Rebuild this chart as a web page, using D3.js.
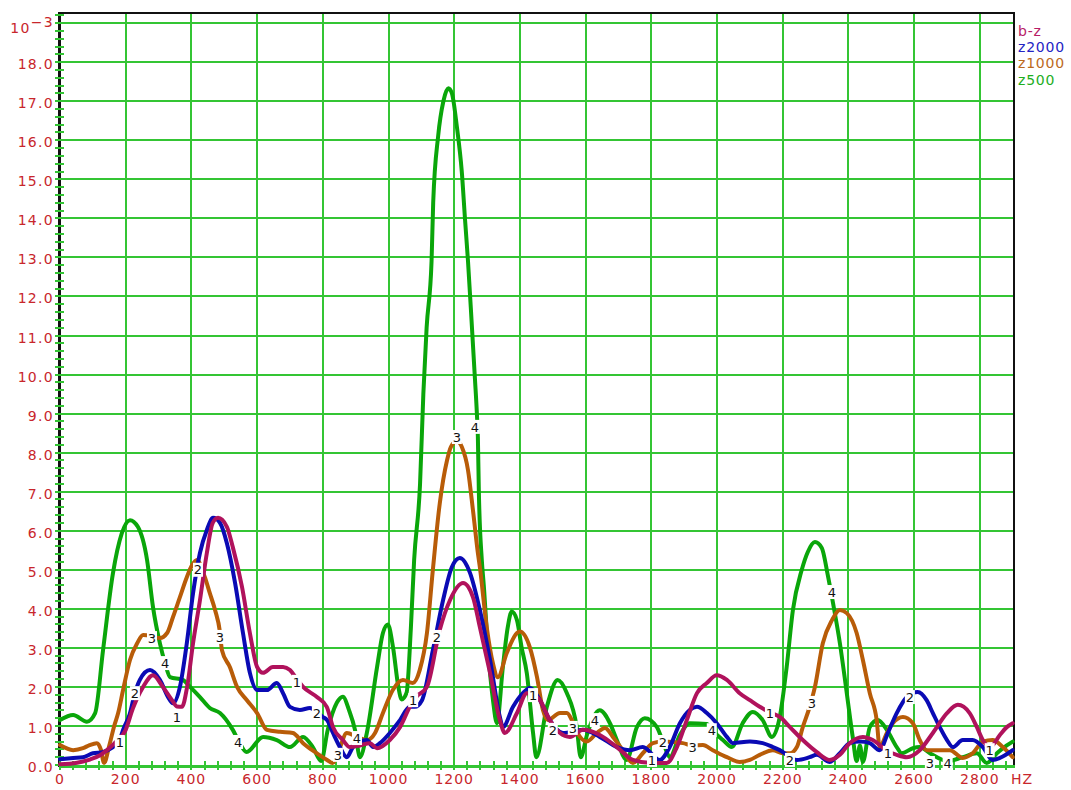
<!DOCTYPE html>
<html>
<head>
<meta charset="utf-8">
<script src="https://cdn.jsdelivr.net/npm/d3@7"></script>
<style>
  body { margin: 0; background: #fff; }
  svg { display: block; }
</style>
</head>
<body>
<svg id="chart" width="1071" height="790"></svg>
<script>
// Spectrum curves: [frequency in Hz, amplitude in units of 10^-3]
const bz = [[0,0.02],[52,0.06],[91,0.14],[122,0.25],[143,0.38],[165,0.55],[200,0.9],[222,1.45],[253,2.0],[283,2.3],[313,2.0],[341,1.66],[356,1.5],[371,1.49],[387,2.0],[405,3.12],[426,4.22],[447,5.43],[465,6.2],[481,6.33],[508,6.1],[526,5.58],[554,4.56],[578,3.38],[600,2.51],[618,2.36],[648,2.51],[679,2.51],[700,2.43],[721,2.2],[740,2.0],[782,1.74],[812,1.49],[831,0.97],[861,0.64],[882,0.46],[913,0.5],[943,0.56],[965,0.43],[1004,0.64],[1035,0.97],[1065,1.49],[1085,1.75],[1117,2.0],[1156,3.46],[1187,4.22],[1227,4.66],[1257,4.3],[1278,3.53],[1309,2.36],[1339,1.15],[1354,0.82],[1391,1.33],[1421,1.84],[1440,1.8],[1461,1.66],[1491,1.15],[1522,0.82],[1552,0.72],[1592,0.9],[1643,0.77],[1695,0.46],[1744,0.13],[1800,0.05],[1847,0.05],[1878,0.46],[1908,1.15],[1939,1.84],[1969,2.1],[1999,2.3],[2030,2.18],[2069,1.84],[2100,1.66],[2130,1.49],[2161,1.35],[2191,1.23],[2222,0.97],[2261,0.64],[2304,0.33],[2343,0.13],[2374,0.26],[2404,0.56],[2444,0.72],[2474,0.64],[2520,0.35],[2547,0.26],[2578,0.2],[2617,0.38],[2657,0.82],[2700,1.33],[2733,1.54],[2769,1.33],[2791,0.97],[2809,0.64],[2830,0.45],[2861,0.77],[2882,0.97],[2900,1.07]];

const z2000 = [[0,0.15],[40,0.18],[70,0.2],[100,0.3],[130,0.33],[160,0.45],[180,0.6],[192,0.9],[212,1.3],[228,1.84],[243,2.18],[274,2.43],[304,2.18],[329,1.74],[344,1.58],[365,2.0],[386,3.12],[405,4.4],[426,5.43],[447,6.02],[466,6.33],[487,6.2],[508,5.68],[533,4.66],[557,3.38],[578,2.36],[600,1.92],[630,1.92],[660,2.1],[679,1.84],[700,1.49],[730,1.41],[761,1.46],[782,1.35],[800,1.23],[813,1.15],[831,0.82],[852,0.46],[873,0.2],[892,0.46],[934,0.64],[953,0.46],[974,0.56],[1004,0.82],[1035,1.15],[1065,1.49],[1080,1.49],[1102,1.66],[1135,2.94],[1166,4.22],[1193,5.07],[1217,5.3],[1248,4.92],[1278,3.97],[1309,2.69],[1339,1.23],[1348,0.97],[1379,1.49],[1409,1.84],[1430,1.97],[1461,1.66],[1491,1.15],[1531,0.82],[1592,0.9],[1643,0.72],[1695,0.46],[1735,0.38],[1774,0.46],[1826,0.13],[1856,0.46],[1887,1.07],[1917,1.41],[1939,1.49],[1969,1.33],[1999,1.07],[2030,0.72],[2048,0.56],[2100,0.6],[2139,0.56],[2170,0.46],[2191,0.38],[2243,0.13],[2282,0.2],[2304,0.26],[2343,0.08],[2374,0.3],[2404,0.56],[2435,0.6],[2465,0.56],[2495,0.38],[2520,0.82],[2547,1.33],[2578,1.74],[2611,1.87],[2638,1.66],[2657,1.33],[2678,0.97],[2700,0.64],[2718,0.46],[2748,0.64],[2778,0.64],[2809,0.46],[2839,0.13],[2861,0.18],[2900,0.38]];

const z1000 = [[0,0.51],[40,0.38],[70,0.43],[90,0.51],[112,0.56],[125,0.38],[134,0.05],[150,0.5],[165,1.0],[177,1.33],[192,1.92],[213,2.69],[235,3.12],[253,3.33],[280,3.3],[304,3.25],[326,3.38],[344,3.79],[365,4.3],[386,4.81],[402,5.12],[417,5.25],[441,4.81],[456,4.4],[472,3.97],[487,3.4],[493,2.94],[517,2.51],[539,2.0],[569,1.66],[600,1.33],[630,0.9],[670,0.85],[709,0.82],[740,0.56],[782,0.3],[813,0.13],[830,0.05],[850,0.4],[873,0.82],[904,0.72],[934,0.64],[959,0.82],[983,1.33],[1013,1.92],[1044,2.18],[1074,2.1],[1095,2.43],[1117,3.38],[1135,5.0],[1156,6.7],[1178,7.8],[1190,8.15],[1208,8.3],[1223,8.15],[1242,7.55],[1257,6.53],[1272,5.43],[1278,5.07],[1299,3.53],[1318,2.6],[1333,2.25],[1360,2.87],[1391,3.38],[1400,3.42],[1430,3.02],[1452,2.25],[1470,1.41],[1485,1.15],[1522,1.33],[1543,1.33],[1561,1.1],[1583,0.72],[1604,0.6],[1634,0.82],[1659,0.95],[1683,0.72],[1713,0.38],[1744,0.05],[1774,0.3],[1805,0.56],[1835,0.6],[1896,0.56],[1926,0.5],[1957,0.51],[1987,0.38],[2030,0.2],[2069,0.08],[2100,0.13],[2130,0.26],[2170,0.38],[2200,0.3],[2222,0.3],[2243,0.46],[2261,0.97],[2282,1.49],[2298,2.0],[2322,3.12],[2350,3.71],[2374,3.97],[2395,3.89],[2425,3.38],[2444,2.69],[2465,1.84],[2486,1.15],[2495,0.46],[2517,0.82],[2535,1.07],[2566,1.23],[2596,1.07],[2617,0.64],[2638,0.38],[2678,0.38],[2709,0.38],[2748,0.18],[2778,0.3],[2809,0.6],[2839,0.64],[2870,0.46],[2900,0.2]];

const z500 = [[0,1.15],[40,1.28],[82,1.11],[107,1.33],[131,2.94],[161,4.9],[188,5.93],[213,6.27],[237,6.1],[265,5.25],[283,4.05],[304,3.12],[320,2.6],[335,2.25],[374,2.18],[396,2.0],[426,1.74],[456,1.46],[487,1.33],[526,0.9],[545,0.6],[568,0.33],[618,0.72],[660,0.64],[700,0.46],[740,0.72],[770,0.45],[795,0.1],[815,0.9],[843,1.6],[861,1.75],[880,1.4],[898,0.9],[913,0.2],[934,0.82],[965,2.5],[983,3.38],[998,3.6],[1014,3.0],[1030,2.0],[1040,1.68],[1055,1.85],[1068,3.5],[1078,5.25],[1096,7.2],[1106,9.5],[1116,11.2],[1131,12.9],[1136,14.4],[1151,16.1],[1167,17.0],[1182,17.33],[1193,17.2],[1208,16.35],[1223,15.2],[1233,13.96],[1242,12.9],[1254,11.2],[1263,9.9],[1269,9.0],[1272,8.4],[1275,7.0],[1284,5.25],[1290,4.6],[1303,2.94],[1318,1.66],[1330,1.07],[1348,2.5],[1363,3.53],[1375,3.93],[1391,3.71],[1405,3.02],[1421,2.35],[1440,0.82],[1450,0.2],[1482,1.49],[1515,2.18],[1543,1.84],[1573,0.97],[1585,0.2],[1605,0.8],[1643,1.4],[1674,1.07],[1695,0.64],[1725,0.13],[1756,0.97],[1780,1.2],[1817,0.97],[1841,0.46],[1856,0.2],[1887,0.77],[1917,1.07],[1969,1.05],[1984,0.9],[2018,0.64],[2045,0.46],[2078,1.07],[2109,1.36],[2139,1.15],[2167,0.72],[2191,1.23],[2212,2.51],[2231,3.97],[2258,5.0],[2276,5.45],[2298,5.71],[2319,5.56],[2337,4.87],[2353,4.15],[2374,3.12],[2395,1.84],[2413,0.72],[2425,0.1],[2435,0.5],[2444,0.08],[2465,0.97],[2489,1.15],[2517,0.9],[2547,0.46],[2562,0.3],[2596,0.43],[2617,0.46],[2648,0.3],[2702,0.1],[2748,0.2],[2791,0.3],[2821,0.05],[2852,0.3],[2882,0.5],[2900,0.6]];

// Curve id markers placed along each trace: [frequency, amplitude]
const marks1 = [[182,0.59],[356,1.23],[721,2.13],[1075,1.66],[1440,1.79],[1802,0.13],[2161,1.33],[2520,0.31],[2830,0.38]];
const marks2 = [[228,1.84],[420,5.0],[782,1.33],[1147,3.28],[1500,0.9],[1835,0.59],[2222,0.13],[2587,1.74]];
const marks3 = [[280,3.25],[487,3.28],[846,0.26],[1208,8.4],[1561,0.95],[1926,0.46],[2289,1.59],[2648,0.05]];
const marks4 = [[320,2.61],[542,0.59],[904,0.69],[1263,8.66],[1628,1.15],[1984,0.89],[2350,4.43],[2702,0.05]];

const seriesNames = ["b-z", "z2000", "z1000", "z500"];
const seriesIds = ["1", "2", "3", "4"];
const xTickValues = [0, 200, 400, 600, 800, 1000, 1200, 1400, 1600, 1800, 2000, 2200, 2400, 2600, 2800];
const yTickValues = [0, 1, 2, 3, 4, 5, 6, 7, 8, 9, 10, 11, 12, 13, 14, 15, 16, 17, 18];
const yTopTick = 19;
const xUnit = "HZ";

const colors = ["#b0125c", "#0a0ab4", "#b85c08", "#0aa60a"];
const legendColors = ["#b81c66", "#2424c4", "#bc6a1c", "#1eae1e"];
const gridColor = "#34c534";
const labelRed = "#c8262c";
const font = "'DejaVu Sans', Verdana, sans-serif";

const svg = d3.select("#chart");
const x = d3.scaleLinear().domain([0, 2904]).range([60, 1014]);
const y = d3.scaleLinear().domain([0, 19.26]).range([765, 13]);

// grid
const grid = svg.append("g").attr("shape-rendering", "crispEdges");
grid.selectAll("line.h").data(yTickValues.slice(1).concat([yTopTick])).join("line")
  .attr("class", "h")
  .attr("x1", 60).attr("x2", 1014)
  .attr("y1", d => Math.round(y(d))).attr("y2", d => Math.round(y(d)))
  .attr("stroke", gridColor).attr("stroke-width", 2);
grid.selectAll("line.v").data(xTickValues.slice(1)).join("line")
  .attr("class", "v")
  .attr("x1", d => Math.round(x(d))).attr("x2", d => Math.round(x(d)))
  .attr("y1", 13).attr("y2", 765)
  .attr("stroke", gridColor).attr("stroke-width", 2);

// frame
const frame = svg.append("g").attr("shape-rendering", "crispEdges");
frame.append("line").attr("x1", 59).attr("x2", 1014).attr("y1", 13).attr("y2", 13)
  .attr("stroke", "#111").attr("stroke-width", 2);
frame.append("line").attr("x1", 1014).attr("x2", 1014).attr("y1", 12).attr("y2", 766)
  .attr("stroke", "#111").attr("stroke-width", 2);
frame.append("line").attr("x1", 60).attr("x2", 1015).attr("y1", 766).attr("y2", 766)
  .attr("stroke", gridColor).attr("stroke-width", 3);
frame.append("line").attr("x1", 59.5).attr("x2", 59.5).attr("y1", 12).attr("y2", 767)
  .attr("stroke", "#111").attr("stroke-width", 2.5);

// minor ticks crossing the axes
const ticks = svg.append("g").attr("shape-rendering", "crispEdges");
ticks.selectAll("line.ym").data(d3.range(0, 97).map(i => i * 0.2)).join("line")
  .attr("class", "ym")
  .attr("x1", 55).attr("x2", 64)
  .attr("y1", d => Math.round(y(d))).attr("y2", d => Math.round(y(d)))
  .attr("stroke", gridColor).attr("stroke-width", 2);
ticks.selectAll("line.xm").data(d3.range(0, 73).map(i => i * 40)).join("line")
  .attr("class", "xm")
  .attr("x1", d => Math.round(x(d))).attr("x2", d => Math.round(x(d)))
  .attr("y1", 761).attr("y2", 770)
  .attr("stroke", gridColor).attr("stroke-width", 2);

// traces, drawn back to front
const line = d3.line().x(d => x(d[0])).y(d => y(d[1])).curve(d3.curveMonotoneX);
const traces = [bz, z2000, z1000, z500];
const traceG = svg.append("g");
[3, 2, 1, 0].forEach(i => {
  traceG.append("path").datum(traces[i])
    .attr("d", line)
    .attr("fill", "none")
    .attr("stroke", colors[i])
    .attr("stroke-width", 4)
    .attr("stroke-linejoin", "round")
    .attr("stroke-linecap", "round");
});

// curve id markers with white backing
const markSets = [marks1, marks2, marks3, marks4];
const markG = svg.append("g");
markSets.forEach((set, i) => {
  const g = markG.append("g").selectAll("g").data(set).join("g")
    .attr("transform", d => `translate(${x(d[0])},${y(d[1])})`);
  g.append("rect").attr("x", -5).attr("y", -7).attr("width", 10).attr("height", 14).attr("fill", "#fff");
  g.append("text").text(seriesIds[i])
    .attr("text-anchor", "middle").attr("dy", "0.36em")
    .attr("font-family", font).attr("font-size", 13).attr("fill", "#111");
});

// y tick labels
const yLab = svg.append("g").attr("font-family", font).attr("font-size", 14)
  .attr("fill", labelRed).attr("letter-spacing", 1.3);
yLab.selectAll("text").data(yTickValues).join("text")
  .attr("x", 54).attr("y", d => y(d) + 3)
  .attr("text-anchor", "end").attr("dominant-baseline", "middle")
  .text(d => d.toFixed(1));
const expLabel = yLab.append("text").attr("x", 54).attr("y", y(yTopTick) + 6)
  .attr("text-anchor", "end").attr("dominant-baseline", "middle");
expLabel.append("tspan").text("10");
expLabel.append("tspan").attr("dy", -6).text("\u22123");

// x tick labels
const xLab = svg.append("g").attr("font-family", font).attr("font-size", 14)
  .attr("fill", labelRed).attr("letter-spacing", 1);
xLab.selectAll("text").data(xTickValues).join("text")
  .attr("x", d => x(d)).attr("y", 780)
  .attr("text-anchor", "middle").attr("dominant-baseline", "middle")
  .text(d => d);
xLab.append("text").attr("x", 1022).attr("y", 780)
  .attr("text-anchor", "middle").attr("dominant-baseline", "middle").text(xUnit);

// legend
svg.append("g").attr("font-family", font).attr("font-size", 14).attr("letter-spacing", 0.8)
  .selectAll("text").data(seriesNames).join("text")
  .attr("x", 1018).attr("y", (d, i) => 32 + i * 16.2)
  .attr("dominant-baseline", "middle")
  .attr("fill", (d, i) => legendColors[i])
  .text(d => d);
</script>
</body>
</html>
